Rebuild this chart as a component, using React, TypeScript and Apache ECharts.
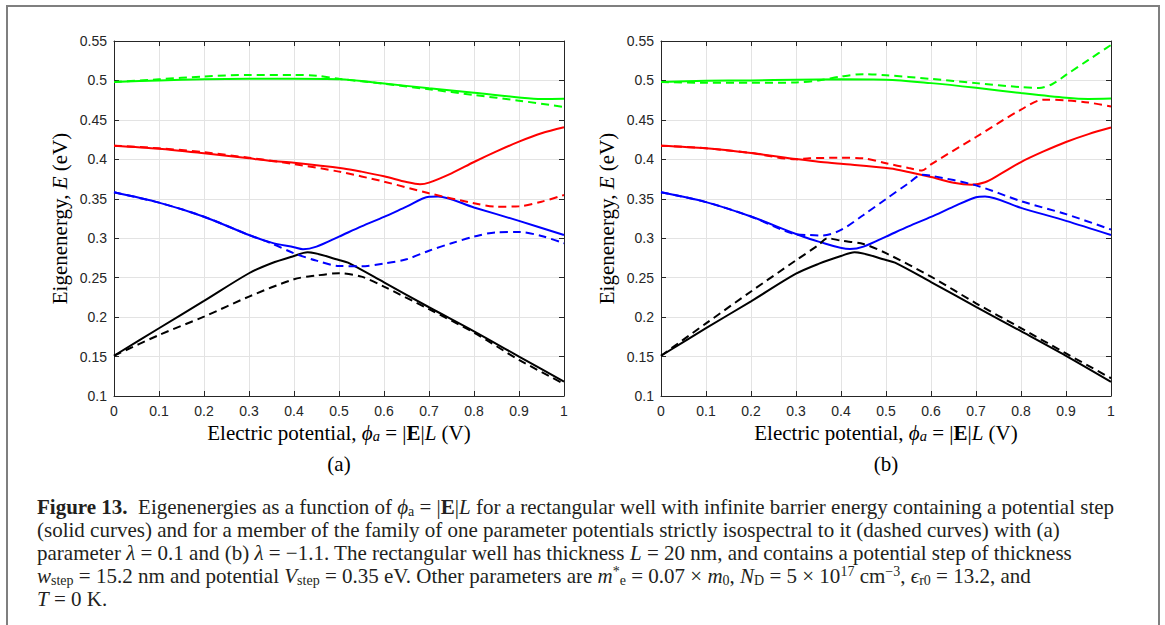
import React, { useEffect, useRef } from "react";
import * as echarts from "echarts";

// Eigenenergy curves, [phi_a (V), E (eV)]
// Panel (a): lambda = 0.1
const aGreenSolid = [[0, 0.498], [0.1, 0.5], [0.2, 0.5015], [0.3, 0.502], [0.4, 0.502], [0.5, 0.5015], [0.6, 0.4962], [0.7, 0.49], [0.8, 0.4845], [0.9, 0.4785], [0.95, 0.4765], [1, 0.4768]];
const aGreenDashed = [[0, 0.498], [0.1, 0.5015], [0.2, 0.505], [0.3, 0.507], [0.4, 0.507], [0.45, 0.506], [0.5, 0.502], [0.6, 0.4958], [0.7, 0.4888], [0.8, 0.4816], [0.9, 0.4744], [1, 0.4664]];
const aRedSolid = [[0, 0.4173], [0.1, 0.4135], [0.2, 0.4077], [0.3, 0.4013], [0.35, 0.398], [0.4, 0.3958], [0.51, 0.3885], [0.55, 0.3844], [0.6, 0.3785], [0.65, 0.3712], [0.68, 0.3684], [0.7, 0.3705], [0.75, 0.3823], [0.8, 0.3966], [0.85, 0.41], [0.9, 0.4224], [0.95, 0.433], [1, 0.4406]];
const aRedDashed = [[0, 0.4173], [0.1, 0.414], [0.2, 0.409], [0.3, 0.402], [0.4, 0.394], [0.5, 0.3844], [0.6, 0.3717], [0.7, 0.357], [0.8, 0.3443], [0.85, 0.34], [0.9, 0.3405], [0.95, 0.3463], [1, 0.3548]];
const aBlueSolid = [[0, 0.3582], [0.1, 0.3451], [0.2, 0.3273], [0.3, 0.3041], [0.35, 0.2944], [0.4, 0.2885], [0.42, 0.286], [0.45, 0.2893], [0.5, 0.302], [0.55, 0.315], [0.6, 0.327], [0.65, 0.34], [0.7, 0.3527], [0.72, 0.353], [0.8, 0.339], [0.9, 0.322], [1, 0.3041]];
const aBlueDashed = [[0, 0.3582], [0.1, 0.3451], [0.2, 0.3273], [0.3, 0.3041], [0.35, 0.2935], [0.4, 0.2809], [0.45, 0.2716], [0.5, 0.2648], [0.55, 0.2645], [0.6, 0.268], [0.65, 0.2733], [0.7, 0.2842], [0.75, 0.2936], [0.8, 0.302], [0.85, 0.3075], [0.9, 0.3078], [0.95, 0.3029], [1, 0.2936]];
const aBlackSolid = [[0, 0.151], [0.1, 0.1859], [0.2, 0.2205], [0.3, 0.2556], [0.35, 0.2683], [0.4, 0.2775], [0.43, 0.2822], [0.5, 0.2724], [0.52, 0.269], [0.6, 0.244], [0.7, 0.2125], [0.8, 0.182], [0.9, 0.15], [1, 0.1183]];
const aBlackDashed = [[0, 0.151], [0.1, 0.1773], [0.2, 0.2006], [0.3, 0.226], [0.4, 0.248], [0.45, 0.2527], [0.5, 0.2556], [0.55, 0.2513], [0.6, 0.2386], [0.7, 0.21], [0.8, 0.1803], [0.9, 0.1458], [1, 0.1154]];

// Panel (b): lambda = -1.1
const bGreenSolid = [[0, 0.498], [0.1, 0.4995], [0.2, 0.5], [0.3, 0.501], [0.4, 0.5015], [0.5, 0.501], [0.6, 0.4966], [0.7, 0.4907], [0.8, 0.484], [0.9, 0.478], [0.95, 0.4765], [1, 0.477]];
const bGreenDashed = [[0, 0.498], [0.1, 0.497], [0.2, 0.497], [0.3, 0.4975], [0.35, 0.5], [0.4, 0.505], [0.45, 0.508], [0.5, 0.5066], [0.6, 0.502], [0.7, 0.4966], [0.8, 0.4915], [0.84, 0.4905], [0.87, 0.4955], [0.9, 0.507], [0.95, 0.526], [1, 0.545]];
const bRedSolid = [[0, 0.4173], [0.1, 0.414], [0.2, 0.408], [0.3, 0.4005], [0.35, 0.397], [0.4, 0.3945], [0.51, 0.3885], [0.55, 0.384], [0.6, 0.3775], [0.65, 0.3703], [0.69, 0.3678], [0.72, 0.371], [0.75, 0.38], [0.8, 0.3966], [0.85, 0.41], [0.9, 0.422], [0.95, 0.432], [1, 0.4403]];
const bRedDashed = [[0, 0.4173], [0.1, 0.414], [0.2, 0.408], [0.3, 0.4], [0.33, 0.4013], [0.4, 0.402], [0.45, 0.4013], [0.5, 0.395], [0.55, 0.389], [0.58, 0.386], [0.6, 0.3937], [0.7, 0.4283], [0.8, 0.463], [0.85, 0.4756], [0.9, 0.4748], [0.95, 0.472], [1, 0.467]];
const bBlueSolid = [[0, 0.3582], [0.1, 0.3458], [0.2, 0.3275], [0.3, 0.3054], [0.35, 0.2957], [0.42, 0.2862], [0.45, 0.2893], [0.5, 0.302], [0.55, 0.315], [0.6, 0.327], [0.65, 0.34], [0.7, 0.352], [0.72, 0.353], [0.8, 0.3385], [0.9, 0.322], [1, 0.3041]];
const bBlueDashed = [[0, 0.3582], [0.1, 0.3458], [0.2, 0.3275], [0.3, 0.305], [0.33, 0.304], [0.36, 0.3035], [0.4, 0.3105], [0.45, 0.3295], [0.5, 0.3497], [0.55, 0.3696], [0.58, 0.3805], [0.6, 0.3793], [0.7, 0.367], [0.8, 0.347], [0.9, 0.3305], [1, 0.311]];
const bBlackSolid = [[0, 0.151], [0.1, 0.186], [0.2, 0.22], [0.3, 0.255], [0.35, 0.2675], [0.4, 0.2775], [0.43, 0.2822], [0.5, 0.2724], [0.52, 0.269], [0.6, 0.2445], [0.7, 0.213], [0.8, 0.1822], [0.9, 0.151], [1, 0.118]];
const bBlackDashed = [[0, 0.151], [0.1, 0.192], [0.2, 0.2325], [0.3, 0.272], [0.35, 0.2914], [0.37, 0.3], [0.4, 0.2969], [0.45, 0.2927], [0.5, 0.281], [0.6, 0.2513], [0.7, 0.2175], [0.8, 0.186], [0.9, 0.154], [1, 0.1225]];

const xTicks = { min: 0, max: 1, interval: 0.1 };
const yTicks = { min: 0.1, max: 0.55, interval: 0.05 };
const panelLabels = ["(a)", "(b)"];

const GREEN = "#00ff00";
const RED = "#ff0000";
const BLUE = "#0000ff";
const BLACK = "#000000";

const AXIS_COLOR = "#262626";
const GRID_COLOR = "#e3e3e3";
const TICK_FONT = "Liberation Sans, Arial, sans-serif";
const MATH_FONT = "Liberation Serif, DejaVu Serif, serif";
const CAPTION_FONT = "Liberation Serif, Times New Roman, serif";
const TITLE_SIZE = 21;

const grids = [
  { left: 114, top: 41, width: 450, height: 355 },
  { left: 661, top: 41, width: 450, height: 355 },
];

const fmt = (v: number) => String(+v.toFixed(2));

const mathRich = {
  it: { fontFamily: MATH_FONT, fontSize: TITLE_SIZE, fontStyle: "italic", color: "#000" },
  bf: { fontFamily: MATH_FONT, fontSize: TITLE_SIZE, fontWeight: "bold", color: "#000" },
  sub: { fontFamily: MATH_FONT, fontSize: 14.5, fontStyle: "italic", color: "#000", verticalAlign: "bottom", lineHeight: 14 },
};

const tickStyle = { show: true, inside: true, length: 5, lineStyle: { color: AXIS_COLOR } };
const lineStyle = { show: true, onZero: false, lineStyle: { color: AXIS_COLOR, width: 1 } };

function buildAxes() {
  const xAxis: any[] = [];
  const yAxis: any[] = [];
  grids.forEach((_, g) => {
    xAxis.push({
      type: "value",
      gridIndex: g,
      ...xTicks,
      position: "bottom",
      axisLine: lineStyle,
      axisTick: tickStyle,
      axisLabel: { show: true, margin: 8, fontFamily: TICK_FONT, fontSize: 14, color: AXIS_COLOR, formatter: fmt },
      splitLine: { show: true, lineStyle: { color: GRID_COLOR, width: 1 } },
      name: "Electric potential, {it|ϕ}{sub|a} = |{bf|E}|{it|L} (V)",
      nameLocation: "middle",
      nameGap: 25,
      nameTextStyle: { fontFamily: MATH_FONT, fontSize: TITLE_SIZE, color: "#000", rich: mathRich },
    });
    xAxis.push({
      type: "value",
      gridIndex: g,
      ...xTicks,
      position: "top",
      axisLine: lineStyle,
      axisTick: tickStyle,
      axisLabel: { show: false },
      splitLine: { show: false },
    });
    yAxis.push({
      type: "value",
      gridIndex: g,
      ...yTicks,
      position: "left",
      axisLine: lineStyle,
      axisTick: tickStyle,
      axisLabel: { show: true, margin: 7, fontFamily: TICK_FONT, fontSize: 14, color: AXIS_COLOR, formatter: fmt },
      splitLine: { show: true, lineStyle: { color: GRID_COLOR, width: 1 } },
      name: "Eigenenergy, {it|E} (eV)",
      nameLocation: "middle",
      nameGap: 44,
      nameTextStyle: { fontFamily: MATH_FONT, fontSize: TITLE_SIZE, color: "#000", rich: mathRich },
    });
    yAxis.push({
      type: "value",
      gridIndex: g,
      ...yTicks,
      position: "right",
      axisLine: lineStyle,
      axisTick: tickStyle,
      axisLabel: { show: false },
      splitLine: { show: false },
    });
  });
  return { xAxis, yAxis };
}

function curve(data: number[][], color: string, dashed: boolean, panel: number) {
  return {
    type: "line",
    xAxisIndex: panel * 2,
    yAxisIndex: panel * 2,
    data,
    showSymbol: false,
    symbol: "none",
    smooth: 0.3,
    lineStyle: { color, width: 2, type: dashed ? [8, 5] : "solid" },
    z: dashed ? 3 : 2,
  };
}

const capBase = { fontFamily: CAPTION_FONT, fontSize: 21, color: "#231f20", lineHeight: 23.2 };
const captionRich = {
  fb: { ...capBase, fontWeight: "bold" },
  it: { ...capBase, fontStyle: "italic" },
  bf: { ...capBase, fontWeight: "bold" },
  sub: { ...capBase, fontSize: 14, lineHeight: 10, verticalAlign: "bottom" },
  sup: { ...capBase, fontSize: 14, lineHeight: 14, verticalAlign: "top" },
};

const captionLines = [
  "{fb|Figure 13.}  Eigenenergies as a function of {it|ϕ}{sub|a} = |{bf|E}|{it|L} for a rectangular well with infinite barrier energy containing a potential step",
  "(solid curves) and for a member of the family of one parameter potentials strictly isospectral to it (dashed curves) with (a)",
  "parameter {it|λ} = 0.1 and (b) {it|λ} = −1.1. The rectangular well has thickness {it|L} = 20 nm, and contains a potential step of thickness",
  "{it|w}{sub|step} = 15.2 nm and potential {it|V}{sub|step} = 0.35 eV. Other parameters are {it|m}{sup|*}{sub|e} = 0.07 × {it|m}{sub|0}, {it|N}{sub|D} = 5 × 10{sup|17} cm{sup|−3}, {it|ϵ}{sub|r0} = 13.2, and",
  "{it|T} = 0 K.",
];

export default function App() {
  const ref = useRef<HTMLDivElement>(null);
  useEffect(() => {
    if (!ref.current) return;
    const chart = echarts.init(ref.current, undefined, { renderer: "svg" });
    const { xAxis, yAxis } = buildAxes();
    const series = [
      curve(aGreenSolid, GREEN, false, 0),
      curve(aGreenDashed, GREEN, true, 0),
      curve(aRedSolid, RED, false, 0),
      curve(aRedDashed, RED, true, 0),
      curve(aBlueSolid, BLUE, false, 0),
      curve(aBlueDashed, BLUE, true, 0),
      curve(aBlackSolid, BLACK, false, 0),
      curve(aBlackDashed, BLACK, true, 0),
      curve(bGreenSolid, GREEN, false, 1),
      curve(bGreenDashed, GREEN, true, 1),
      curve(bRedSolid, RED, false, 1),
      curve(bRedDashed, RED, true, 1),
      curve(bBlueSolid, BLUE, false, 1),
      curve(bBlueDashed, BLUE, true, 1),
      curve(bBlackSolid, BLACK, false, 1),
      curve(bBlackDashed, BLACK, true, 1),
    ];
    chart.setOption({
      animation: false,
      backgroundColor: "#ffffff",
      grid: grids.map((g) => ({ ...g, containLabel: false })),
      xAxis,
      yAxis,
      series,
      graphic: [
        {
          type: "rect",
          shape: { x: 7, y: 6, width: 1152, height: 660 },
          style: { fill: "none", stroke: "#7f7f7f", lineWidth: 2 },
          silent: true,
        },
        ...panelLabels.map((t, i) => ({
          type: "text",
          x: grids[i].left + grids[i].width / 2,
          y: 464,
          style: { text: t, fontFamily: MATH_FONT, fontSize: TITLE_SIZE, fill: "#000", align: "center", verticalAlign: "middle" },
        })),
        {
          type: "text",
          x: 37,
          y: 495,
          style: {
            text: captionLines.join("\n"),
            ...capBase,
            fill: "#231f20",
            rich: captionRich,
            align: "left",
            verticalAlign: "top",
          },
        },
      ],
    });
    return () => chart.dispose();
  }, []);
  return <div ref={ref} style={{ position: "absolute", left: 0, top: 0, width: 1165, height: 625 }} />;
}
